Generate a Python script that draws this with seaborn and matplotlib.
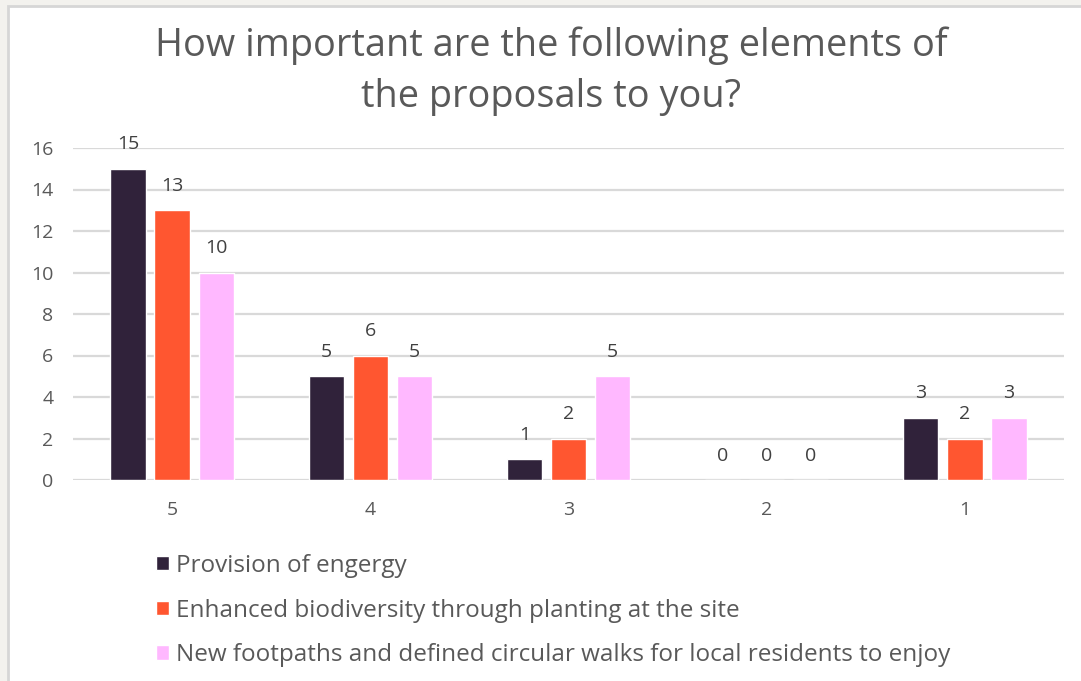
import matplotlib
matplotlib.use("Agg")
import matplotlib.pyplot as plt
from matplotlib.patches import Rectangle
import pandas as pd
import seaborn as sns

# Survey responses: importance rating (5 = most important) per proposal element
ratings = ["5", "4", "3", "2", "1"]
energy = [15, 5, 1, 0, 3]
biodiversity = [13, 6, 2, 0, 2]
footpaths = [10, 5, 5, 0, 3]
series_names = [
    "Provision of engergy",
    "Enhanced biodiversity through planting at the site",
    "New footpaths and defined circular walks for local residents to enjoy",
]
colors = ["#30223a", "#ff5630", "#ffb8ff"]
title = "How important are the following elements of\nthe proposals to you?"
yticks = [0, 2, 4, 6, 8, 10, 12, 14, 16]

df = pd.DataFrame({
    "rating": ratings * 3,
    "count": energy + biodiversity + footpaths,
    "element": [n for n in series_names for _ in ratings],
})

sns.set_theme(style="white")
plt.rcParams["font.family"] = ["Open Sans", "DejaVu Sans"]
text_color = "#595959"

fig = plt.figure(figsize=(10.81, 6.81), dpi=100, facecolor="#f3f2ee")
W, H = 1081, 681
# white card with a thin grey edge
fig.patches.append(Rectangle((8 / W, -0.01), 1, 1.01 - 6 / H, transform=fig.transFigure,
                             facecolor="white", edgecolor="#d6d6d6", linewidth=2.0,
                             zorder=-5))

ax = fig.add_axes([73 / W, 1 - 480 / H, (1064 - 73) / W, (480 - 148) / H])
ax.set_zorder(2)
ax.set_facecolor("none")
sns.barplot(data=df, x="rating", y="count", hue="element", order=ratings,
            hue_order=series_names, palette=colors, width=0.667, gap=0.2,
            saturation=1, ax=ax, legend=True)

for cont in ax.containers:
    ax.bar_label(cont, fmt="%d", padding=11, fontsize=14, color="#404040")

ax.set_ylim(0, 16)
ax.set_yticks(yticks)
ax.set_xlim(-0.5, 4.5)
ax.grid(axis="y", color="#d9d9d9", linewidth=1.6)
ax.set_axisbelow(True)
for s in ax.spines.values():
    s.set_visible(False)
ax.tick_params(axis="both", length=0, labelsize=14, labelcolor=text_color)
ax.tick_params(axis="y", pad=14)
ax.tick_params(axis="x", pad=15)
ax.set_xlabel("")
ax.set_ylabel("")

handles, labels = ax.get_legend_handles_labels()
ax.get_legend().remove()
fig.legend(handles, labels, loc="upper left", bbox_to_anchor=(134 / W, 1 - 532 / H),
           frameon=False, fontsize=17.5, handlelength=0.53, handleheight=0.53,
           handletextpad=0.3, labelspacing=0.85, labelcolor=text_color)

fig.text(551 / W, 1 - 71 / H, title, ha="center", va="center", fontsize=27.3,
         color=text_color, linespacing=1.45)

fig.savefig("out.png", dpi=100, facecolor=fig.get_facecolor())
